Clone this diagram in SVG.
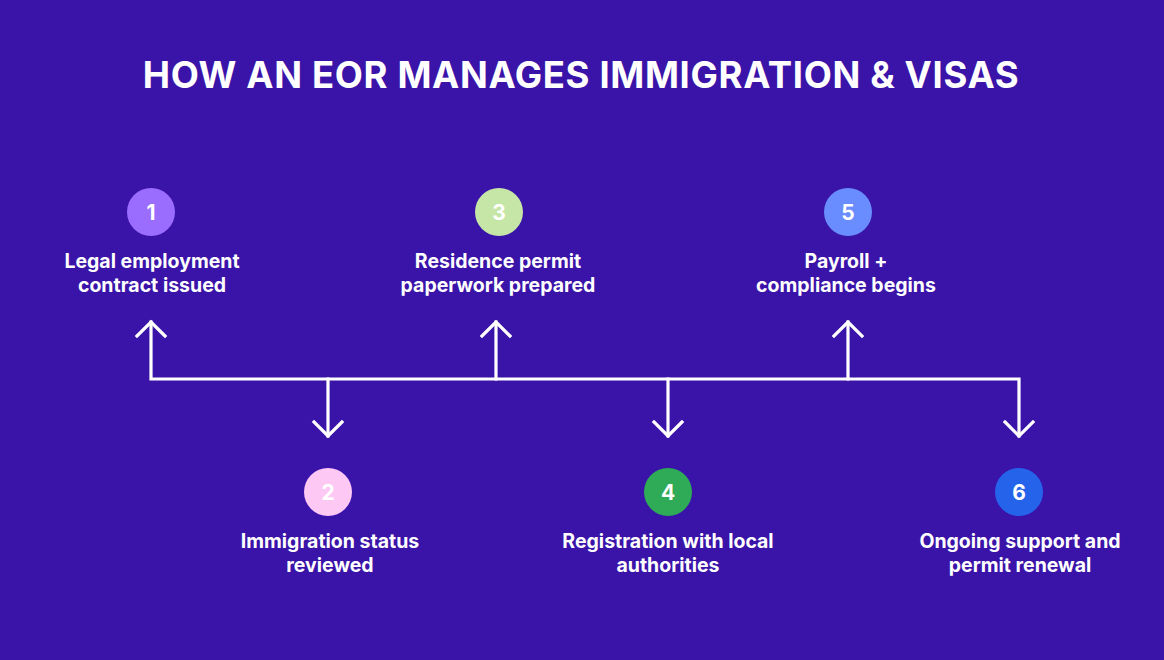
<svg xmlns="http://www.w3.org/2000/svg" width="1164" height="660" viewBox="0 0 1164 660">
<style>
.title{font-family:Inter,"Liberation Sans",sans-serif;font-weight:700;font-size:36.5px;fill:#fff;letter-spacing:0.64px}
.lbl{font-family:Inter,"Liberation Sans",sans-serif;font-weight:700;font-size:19.5px;fill:#fff;text-anchor:middle}
.num{font-family:Inter,"Liberation Sans",sans-serif;font-weight:700;font-size:21px;fill:#fff;text-anchor:middle}
.ln{fill:none;stroke:#fff;stroke-width:3.2;stroke-linecap:square;stroke-linejoin:miter}
</style>
<rect width="1164" height="660" fill="#3a13a8"/>
<text class="title" x="581" y="88" text-anchor="middle">HOW AN EOR MANAGES IMMIGRATION &amp; VISAS</text>
<g id="connectors">
<path class="ln" d="M151 322 V379 H1019 V436"/>
<path class="ln" d="M328 379 V436 M496 379 V322 M668 379 V436 M848 379 V322"/>
<path class="ln" d="M137 336 L151 322 L165 336 M482 336 L496 322 L510 336 M834 336 L848 322 L862 336"/>
<path class="ln" d="M314 422 L328 436 L342 422 M654 422 L668 436 L682 422 M1005 422 L1019 436 L1033 422"/>
</g>
<g id="step1"><circle cx="151" cy="212" r="24" fill="#9b6dff"/><text class="num" x="151" y="219.5">1</text>
<text class="lbl" x="152" y="268">Legal employment</text><text class="lbl" x="152" y="292">contract issued</text></g>
<g id="step2"><circle cx="328" cy="492" r="24" fill="#fec8f4"/><text class="num" x="328" y="499.5">2</text>
<text class="lbl" x="330" y="548">Immigration status</text><text class="lbl" x="330" y="572">reviewed</text></g>
<g id="step3"><circle cx="499" cy="212" r="24" fill="#c6e6a7"/><text class="num" x="499" y="219.5">3</text>
<text class="lbl" x="498" y="268">Residence permit</text><text class="lbl" x="498" y="292">paperwork prepared</text></g>
<g id="step4"><circle cx="668" cy="492" r="24" fill="#2faa56"/><text class="num" x="668" y="499.5">4</text>
<text class="lbl" x="668" y="548">Registration with local</text><text class="lbl" x="668" y="572">authorities</text></g>
<g id="step5"><circle cx="848" cy="212" r="24" fill="#698cff"/><text class="num" x="848" y="219.5">5</text>
<text class="lbl" x="846" y="268">Payroll +</text><text class="lbl" x="846" y="292">compliance begins</text></g>
<g id="step6"><circle cx="1019" cy="492" r="24" fill="#2563eb"/><text class="num" x="1019" y="499.5">6</text>
<text class="lbl" x="1020" y="548">Ongoing support and</text><text class="lbl" x="1020" y="572">permit renewal</text></g>
</svg>
